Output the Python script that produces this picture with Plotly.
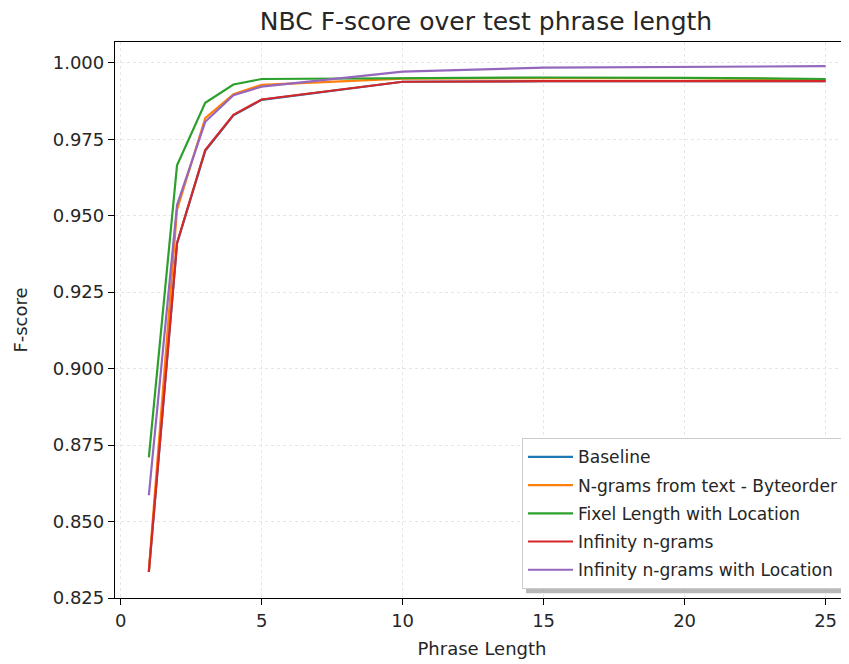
import plotly.graph_objects as go

phrase_length = [1, 2, 3, 4, 5, 10, 15, 20, 25]
baseline = [0.8335, 0.9410, 0.9712, 0.9828, 0.9879, 0.9938, 0.9940, 0.9940, 0.9940]
ngrams_byteorder = [0.8340, 0.9520, 0.9819, 0.9897, 0.9928, 0.9948, 0.9950, 0.9950, 0.9945]
fixel_location = [0.8710, 0.9665, 0.9869, 0.9929, 0.9947, 0.9950, 0.9952, 0.9951, 0.9947]
infinity_ngrams = [0.8335, 0.9410, 0.9715, 0.9830, 0.9880, 0.9938, 0.9940, 0.9940, 0.9940]
infinity_location = [0.8586, 0.9535, 0.9807, 0.9894, 0.9922, 0.9971, 0.9984, 0.9987, 0.9989]

names = ["Baseline", "N-grams from text - Byteorder", "Fixel Length with Location",
         "Infinity n-grams", "Infinity n-grams with Location"]
series = [baseline, ngrams_byteorder, fixel_location, infinity_ngrams, infinity_location]
colors = ["#1f77b4", "#ff7f0e", "#2ca02c", "#d62728", "#9467bd"]

FONT = "DejaVu Sans"
fig = go.Figure()
for i, (n, s, c) in enumerate(zip(names, series, colors)):
    fig.add_trace(go.Scatter(x=phrase_length, y=s, name=n, mode="lines",
                             line=dict(color=c, width=2.2), legendgroup=f"g{i}"))

# legend drop shadow
fig.add_shape(type="rect", xref="paper", yref="paper", x0=0.560, x1=1.01, y0=0.0085, y1=0.27,
              fillcolor="#8a8a8a", line_width=0, opacity=0.6, layer="above")

fig.update_layout(
    width=841, height=656,
    margin=dict(l=107, r=0, t=34, b=66),
    paper_bgcolor="white", plot_bgcolor="white",
    font=dict(family=FONT, color="#262626", size=18),
    title=dict(text="NBC F-score over test phrase length", x=0.5684, xanchor="center",
               y=0.980, yanchor="middle", font=dict(size=25, family=FONT, color="#262626")),
    xaxis=dict(range=[-0.2, 25.83], tickmode="array", tickvals=[0, 5, 10, 15, 20, 25],
               showline=True, linecolor="black", linewidth=1.3, mirror=True,
               ticks="outside", ticklen=6, tickcolor="black", automargin=False,
               showgrid=True, gridcolor="#e6e6e6", griddash="dot", gridwidth=1,
               zeroline=False, tickfont=dict(size=18),
               title=dict(text="Phrase Length", font=dict(size=18), standoff=12)),
    yaxis=dict(range=[0.825, 1.0068], tickmode="array",
               tickvals=[0.825, 0.85, 0.875, 0.9, 0.925, 0.95, 0.975, 1.0],
               ticktext=["0.825", "0.850", "0.875", "0.900", "0.925", "0.950", "0.975", "1.000"],
               showline=True, linecolor="black", linewidth=1.3, mirror=False,
               ticks="outside", ticklen=6, tickcolor="black", automargin=False,
               showgrid=True, gridcolor="#e6e6e6", griddash="dot", gridwidth=1,
               zeroline=False, tickfont=dict(size=18),
               title=dict(text="F-score", font=dict(size=18), standoff=20)),
    legend=dict(x=0.5545, y=0.2874, xanchor="left", yanchor="top",
                bgcolor="white", bordercolor="#cccccc", borderwidth=1,
                font=dict(size=17.1, family=FONT, color="#262626"),
                itemwidth=45,
                traceorder="grouped", tracegroupgap=3),
    showlegend=True,
)

fig.write_html("out.html")
